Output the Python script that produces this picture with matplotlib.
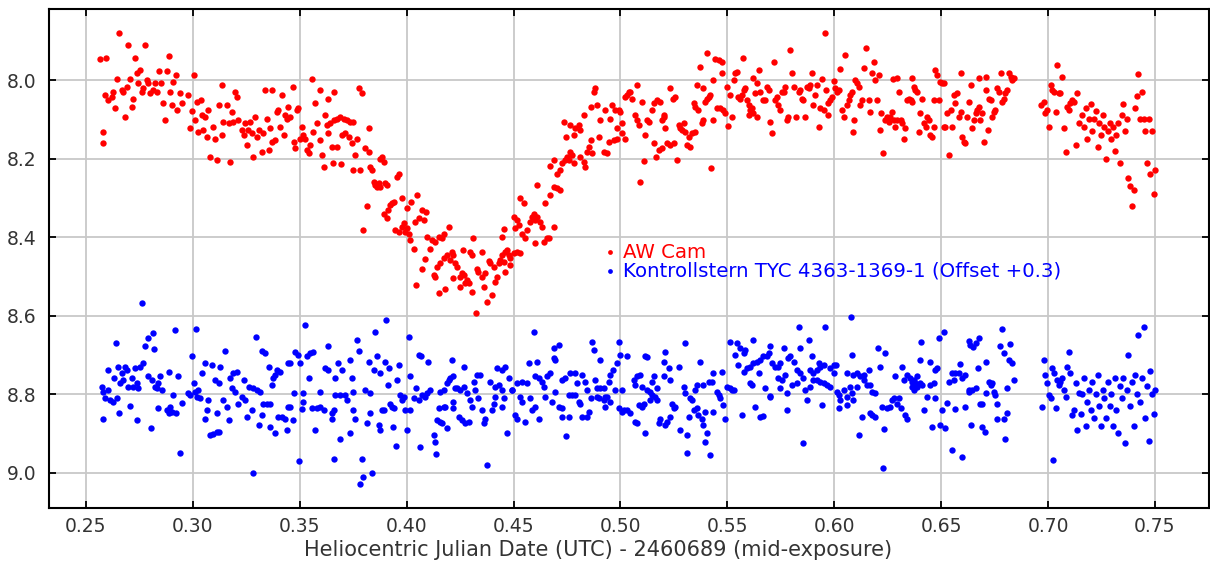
import matplotlib
matplotlib.use("Agg")
import matplotlib.pyplot as plt
from matplotlib.ticker import FormatStrFormatter

# ---------------- data ----------------
red_time = [
    0.2566,0.2578,0.2578,0.2589,0.2594,0.2605,0.2620,0.2628,0.2636,0.2647,
    0.2656,0.2667,0.2675,0.2683,0.2691,0.2698,0.2706,0.2714,0.2722,0.2730,
    0.2737,0.2745,0.2753,0.2761,0.2769,0.2776,0.2784,0.2792,0.2800,0.2815,
    0.2823,0.2831,0.2843,0.2851,0.2859,0.2870,0.2881,0.2889,0.2893,0.2901,
    0.2909,0.2920,0.2928,0.2940,0.2948,0.2979,0.2987,0.2995,0.3003,0.3010,
    0.3018,0.3026,0.3037,0.3042,0.3049,0.3057,0.3065,0.3073,0.3081,0.3096,
    0.3104,0.3112,0.3120,0.3135,0.3135,0.3143,0.3159,0.3167,0.3174,0.3182,
    0.3190,0.3198,0.3206,0.3213,0.3229,0.3237,0.3244,0.3252,0.3260,0.3268,
    0.3276,0.3283,0.3291,0.3299,0.3307,0.3322,0.3330,0.3338,0.3346,0.3354,
    0.3361,0.3369,0.3369,0.3385,0.3393,0.3400,0.3408,0.3416,0.3424,0.3432,
    0.3439,0.3447,
    0.3467,0.3556,0.3595,0.3662,0.3631,0.3572,0.3494,0.3486,0.3455,0.3619,
    0.3775,0.3790,0.3510,0.3517,0.3525,0.3502,0.3478,0.3471,0.3533,0.3541,
    0.3549,0.3564,0.3580,0.3595,0.3603,0.3611,0.3627,0.3642,0.3658,0.3673,
    0.3689,0.3705,0.3720,0.3736,0.3751,0.3634,0.3650,0.3673,0.3697,0.3712,
    0.3728,0.3744,0.3767,0.3655,0.3692,0.3759,0.3751,0.3783,0.3822,0.3806,
    0.3826,0.3829,0.3837,0.3845,0.3853,0.3861,0.3869,0.3876,0.3900,0.3907,
    0.3884,0.3892,0.3876,0.3814,0.3798,0.3954,0.3962,0.3892,0.3907,0.3915,
    0.3923,0.3931,0.3939,0.3946,0.3962,0.3978,0.3986,0.3993,0.4001,0.4009,
    0.3978,0.4001,0.4020,0.4048,0.4040,0.4060,0.4071,0.4092,0.4079,0.4017,
    0.4032,0.4095,0.4107,0.4118,0.4134,0.4149,0.4165,0.4173,0.4196,0.4045,
    0.4071,0.4087,0.4126,0.4134,0.4141,0.4157,0.4173,0.4188,0.4204,0.4212,
    0.4219,0.4227,0.4235,0.4149,0.4180,0.4219,0.4251,0.4258,0.4266,0.4282,
    0.4251,0.4274,0.4290,0.4305,0.4263,0.4297,0.4305,0.4310,0.4329,0.4336,
    0.4352,0.4368,0.4352,0.4360,0.4375,0.4325,0.4383,
    0.4399,0.4414,0.4422,0.4407,0.4391,0.4430,0.4438,0.4446,0.4453,0.4461,
    0.4469,0.4477,0.4485,0.4500,0.4516,0.4532,0.4461,0.4485,0.4446,0.4453,
    0.4500,0.4516,0.4524,0.4508,0.4532,0.4547,0.4539,0.4555,0.4563,0.4578,
    0.4586,0.4594,0.4602,0.4610,0.4625,0.4633,0.4602,0.4641,0.4656,0.4664,
    0.4688,0.4610,0.4649,0.4672,0.4688,0.4703,0.4719,0.4669,0.4688,0.4703,
    0.4719,0.4727,0.4742,0.4750,0.4766,0.4774,0.4758,0.4781,0.4812,0.4836,
    0.4828,0.4735,0.4747,0.4766,0.4781,0.4789,0.4805,0.4809,0.4828,0.4844,
    0.4852,0.4860,0.4867,0.4860,0.4875,0.4883,0.4891,0.4898,0.4906,0.4922,
    0.4929,0.4937,0.4945,0.4953,0.4961,0.4976,0.4984,0.4992,0.5000,0.4968,
    0.4984,0.5007,0.5023,0.5007,0.5023,0.5031,0.5038,0.5054,0.5077,0.5046,
    0.5070,0.5077,0.5085,0.5101,0.5116,0.5124,0.5132,0.5093,0.5109,0.5148,
    0.5155,0.5171,0.5187,0.5194,0.5202,0.5210,0.5202,0.5155,0.5166,0.5179,
    0.5194,0.5218,0.5233,0.5249,0.5233,0.5246,0.5257,0.5265,0.5272,0.5280,
    0.5288,0.5296,0.5304,0.5311,0.5319,
    0.5326,0.5334,0.5349,0.5342,0.5349,0.5365,0.5357,0.5373,0.5388,0.5396,
    0.5404,0.5412,0.5420,0.5381,0.5388,0.5407,0.5443,0.5459,0.5474,0.5435,
    0.5474,0.5423,0.5432,0.5451,0.5466,0.5482,0.5490,0.5498,0.5505,0.5513,
    0.5521,0.5529,0.5537,0.5545,0.5552,0.5560,0.5568,0.5576,0.5572,0.5591,
    0.5599,0.5607,0.5615,0.5622,0.5630,0.5638,0.5646,0.5654,0.5583,0.5599,
    0.5622,0.5638,0.5669,0.5677,0.5685,0.5693,0.5700,0.5708,0.5716,0.5724,
    0.5732,0.5739,0.5747,0.5755,0.5763,0.5771,0.5778,0.5786,0.5791,0.5802,
    0.5810,0.5822,0.5833,0.5841,0.5849,0.5856,0.5864,0.5872,0.5880,0.5888,
    0.5895,0.5903,0.5911,0.5919,0.5927,0.5934,0.5942,0.5950,0.5958,0.5962,
    0.5969,0.5973,0.5981,0.5989,0.5997,0.6005,0.6012,0.6020,0.6028,0.6036,
    0.6044,0.6051,0.6059,0.6067,0.6075,0.6083,0.6090,0.6094,0.6098,0.6106,
    0.6114,0.6122,0.6130,0.6137,0.6150,0.6161,0.6169,0.6176,0.6184,0.6192,
    0.6200,0.6208,0.6212,0.6218,0.6228,0.6239,0.6247,0.6254,
    0.6263,0.6271,0.6278,0.6286,0.6294,0.6302,0.6310,0.6318,0.6325,0.6333,
    0.6275,0.6294,0.6341,0.6349,0.6357,0.6364,0.6372,0.6380,0.6364,0.6388,
    0.6396,0.6403,0.6411,0.6419,0.6427,0.6435,0.6442,0.6450,0.6458,0.6466,
    0.6466,0.6473,0.6481,0.6489,0.6497,0.6505,0.6513,0.6513,0.6520,0.6528,
    0.6536,0.6544,0.6552,0.6559,0.6567,0.6575,0.6583,0.6591,0.6598,0.6606,
    0.6614,0.6595,0.6622,0.6630,0.6638,0.6645,0.6653,0.6661,0.6669,0.6677,
    0.6684,0.6677,0.6692,0.6700,0.6708,0.6712,0.6718,0.6723,0.6731,0.6739,
    0.6747,0.6754,0.6762,0.6770,0.6778,0.6786,0.6793,0.6801,0.6809,0.6817,
    0.6825,0.6832,0.6840,
    0.6965,0.6980,0.6988,0.6996,0.7004,0.7012,0.7019,0.7027,0.7035,0.7043,
    0.7051,0.7058,0.7066,0.7074,0.7082,0.7090,0.7097,0.7105,0.7113,0.7121,
    0.7129,0.7136,0.7144,
    0.7160,0.7168,0.7176,0.7184,0.7192,0.7200,0.7208,0.7216,0.7224,0.7232,
    0.7240,0.7248,0.7256,0.7264,0.7272,0.7280,0.7288,0.7296,0.7304,0.7312,
    0.7320,0.7328,0.7336,0.7344,0.7352,0.7360,0.7368,0.7376,0.7384,0.7392,
    0.7400,0.7408,0.7416,0.7423,0.7431,0.7439,0.7447,0.7455,0.7463,0.7471,
    0.7479,0.7487,0.7495,0.7500,
]
red_mag = [
    7.947,8.133,8.161,8.038,7.945,8.051,8.042,8.030,8.072,7.998,
    7.879,8.025,8.030,8.093,8.017,7.911,7.998,8.068,8.047,7.945,
    7.983,8.008,7.975,8.030,8.021,7.911,8.000,8.008,8.034,8.025,
    8.008,8.030,7.976,8.008,8.059,8.102,7.976,7.939,8.030,8.064,
    8.004,7.987,8.076,8.034,8.059,8.038,8.121,8.078,7.987,8.102,
    8.055,8.132,8.051,8.089,8.127,8.093,8.144,8.076,8.195,8.119,
    8.149,8.204,8.064,8.013,8.140,8.106,8.064,8.110,8.208,8.081,
    8.106,8.030,8.042,8.102,8.127,8.140,8.110,8.166,8.127,8.106,
    8.136,8.195,8.093,8.144,8.127,8.183,8.136,8.025,8.098,8.178,
    8.123,8.025,8.157,8.153,8.081,8.076,8.119,8.038,8.140,8.089,
    8.098,8.068,
    8.017,7.998,8.025,8.030,8.047,8.059,8.072,8.076,8.093,8.089,
    8.021,8.034,8.119,8.140,8.149,8.149,8.174,8.157,8.178,8.187,
    8.166,8.132,8.110,8.153,8.191,8.221,8.115,8.110,8.102,8.098,
    8.093,8.098,8.102,8.106,8.106,8.136,8.170,8.170,8.140,8.136,
    8.144,8.161,8.149,8.211,8.214,8.191,8.228,8.228,8.121,8.174,
    8.183,8.221,8.229,8.259,8.267,8.272,8.263,8.272,8.263,8.267,
    8.195,8.208,8.202,8.321,8.382,8.246,8.238,8.340,8.352,8.331,
    8.318,8.314,8.310,8.382,8.386,8.374,8.365,8.386,8.378,8.391,
    8.301,8.327,8.310,8.293,8.361,8.352,8.331,8.335,8.357,8.408,
    8.429,8.399,8.429,8.408,8.412,8.399,8.403,8.391,8.374,8.522,
    8.480,8.455,8.497,8.501,8.475,8.467,8.454,8.446,8.458,8.437,
    8.446,8.467,8.475,8.543,8.531,8.505,8.501,8.492,8.497,8.509,
    8.526,8.518,8.518,8.539,8.433,8.437,8.446,8.403,8.480,8.488,
    8.501,8.492,8.437,8.526,8.565,8.593,8.462,
    8.548,8.514,8.501,8.475,8.467,8.467,8.458,8.446,8.463,8.437,
    8.433,8.446,8.454,8.441,8.437,8.441,8.488,8.471,8.399,8.380,
    8.348,8.357,8.369,8.378,8.301,8.314,8.391,8.403,8.382,8.361,
    8.348,8.340,8.357,8.348,8.361,8.374,8.416,8.412,8.403,8.403,
    8.375,8.267,8.314,8.293,8.272,8.276,8.280,8.219,8.204,8.238,
    8.229,8.212,8.204,8.195,8.183,8.191,8.204,8.212,8.195,8.221,
    8.208,8.106,8.144,8.115,8.140,8.123,8.115,8.127,8.089,8.183,
    8.170,8.153,8.187,8.068,8.030,8.021,8.064,8.144,8.102,8.183,
    8.076,8.187,8.157,8.098,8.064,8.076,8.123,8.076,8.081,8.153,
    8.149,8.136,8.149,8.110,8.042,8.038,8.030,8.047,8.013,8.030,
    8.089,8.102,8.115,8.055,8.140,8.102,8.106,8.259,8.205,8.076,
    8.059,8.051,8.055,8.102,8.093,8.123,8.089,8.161,8.195,8.178,
    8.174,8.161,8.166,8.161,8.021,8.047,8.042,8.204,8.115,8.123,
    8.127,8.110,8.132,8.166,8.144,
    8.170,8.136,8.132,8.059,8.068,8.076,8.013,7.966,8.021,8.055,
    8.047,8.042,8.038,8.110,8.102,7.932,7.947,7.950,7.953,8.000,
    7.981,8.223,8.102,8.072,8.070,8.076,8.085,8.017,8.117,8.038,
    8.093,8.000,7.983,7.979,8.042,8.047,8.038,8.025,7.943,8.051,
    8.064,8.076,8.072,7.996,8.034,8.008,7.975,8.030,8.021,8.089,
    8.085,8.093,8.051,8.051,8.017,8.025,8.106,8.136,7.953,8.051,
    8.042,8.064,8.076,8.030,8.030,8.017,8.102,8.093,7.924,7.983,
    8.017,8.093,8.030,8.025,8.047,8.051,8.093,8.017,8.021,8.013,
    7.981,8.064,8.038,8.013,8.119,8.072,7.998,8.076,7.879,8.025,
    8.089,8.059,8.051,8.042,8.002,8.021,8.030,8.025,7.973,8.076,
    8.093,7.936,8.064,8.051,8.038,8.030,8.132,8.102,8.000,8.008,
    8.017,8.064,8.051,7.970,7.919,8.051,8.081,7.983,7.953,8.000,
    8.051,7.987,8.127,8.085,8.187,8.102,8.093,8.106,
    8.093,8.081,8.102,8.119,8.102,8.030,8.102,8.110,8.149,8.123,
    7.998,7.994,8.051,8.047,8.051,8.055,8.017,8.025,7.994,8.030,
    8.132,8.085,8.047,8.110,8.119,8.093,8.102,8.140,8.144,8.119,
    8.051,7.975,7.987,8.051,8.004,8.008,8.008,8.119,8.119,8.085,
    8.191,8.076,8.119,8.038,8.059,8.034,8.093,8.081,8.144,8.157,
    8.161,7.981,8.093,8.055,8.013,8.123,8.102,8.085,8.076,8.068,
    8.102,7.996,8.085,8.157,7.991,8.025,8.127,8.047,8.051,8.093,
    8.081,8.076,8.021,8.030,7.981,8.055,8.047,8.034,8.025,7.983,
    7.991,8.000,7.996,
    8.064,8.055,8.085,8.076,8.119,8.013,8.025,8.030,8.081,7.962,
    8.034,8.034,7.992,8.123,8.183,8.068,8.076,8.059,8.051,8.055,
    8.166,8.034,8.110,
    8.090,8.120,8.070,8.150,8.100,8.060,8.130,8.100,8.080,8.170,
    8.110,8.140,8.090,8.120,8.200,8.130,8.110,8.150,8.120,8.180,
    8.140,8.110,8.210,8.090,8.060,8.130,8.100,8.250,8.270,8.320,
    8.280,8.070,8.040,7.985,8.100,8.030,8.100,8.130,8.210,8.100,
    8.240,8.130,8.290,8.230,
]

blue_time = [
    0.2761,0.2639,0.2812,0.2792,0.2776,0.2820,0.2918,0.3015,0.2995,0.3295,
    0.3151,0.3322,0.3338,0.2574,0.2581,0.2589,0.2605,0.2613,0.2628,0.2644,
    0.2605,0.2632,0.2652,0.2667,0.2683,0.2691,0.2675,0.2660,0.2698,0.2714,
    0.2722,0.2737,0.2745,0.2730,0.2753,0.2769,0.2581,0.2656,0.2706,0.2737,
    0.2804,0.2792,0.2808,0.2823,0.2839,0.2847,0.2854,0.2831,0.2889,0.2835,
    0.2878,0.2893,0.2886,0.2901,0.2921,0.2906,0.2932,0.2940,0.2948,0.2975,
    0.2987,0.3003,0.3010,0.3018,0.3026,0.3034,0.3042,0.3057,0.3073,0.3057,
    0.3065,0.3081,0.3096,0.3112,0.3124,0.3088,0.3104,0.3127,0.3120,0.3112,
    0.3143,0.3159,0.3167,0.3174,0.3190,0.3206,0.3182,0.3198,0.3213,0.3229,
    0.3237,0.3244,0.3252,0.3264,0.3276,0.3283,0.3280,0.3299,0.3307,0.3315,
    0.3322,0.3330,0.3346,0.3361,0.3354,0.3369,0.3377,0.3385,0.3393,0.3408,
    0.3361,0.3385,0.3400,0.3416,0.3432,0.3439,0.3447,0.3447,
    0.3525,0.3903,0.3853,0.4009,0.3767,0.3631,0.3775,0.3478,0.3494,0.3502,
    0.3455,0.3533,0.3549,0.3564,0.3619,0.3634,0.3681,0.3697,0.3736,0.3744,
    0.3822,0.3845,0.3861,0.3876,0.3900,0.3918,0.3962,0.3954,0.3911,0.4056,
    0.4068,0.4099,0.4017,0.4212,0.4266,0.3541,0.3666,0.3471,0.3514,0.3595,
    0.3666,0.3689,0.3712,0.3720,0.3751,0.3806,0.3829,0.3455,0.3517,0.3510,
    0.3556,0.3580,0.3595,0.3611,0.3650,0.3658,0.3467,0.3572,0.3650,0.3686,
    0.3733,0.3759,0.3751,0.3814,0.3829,0.3869,0.3876,0.3892,0.3884,0.3923,
    0.3931,0.3939,0.3934,0.3951,0.3970,0.3978,0.3986,0.3993,0.4001,0.4017,
    0.4032,0.4045,0.4056,0.4071,0.4087,0.4095,0.4110,0.4063,0.3497,0.3662,
    0.3790,0.3783,0.3798,0.3837,0.4126,0.4134,0.4138,0.4141,0.4149,0.4157,
    0.4165,0.4173,0.4180,0.4188,0.4157,0.4173,0.4188,0.4196,0.4204,0.4219,
    0.4227,0.4235,0.4251,0.4219,0.4219,0.4243,0.4258,0.4274,0.4290,0.4266,
    0.4282,0.4297,0.4305,0.4313,0.4321,0.4329,0.4336,0.4341,0.4352,0.4360,
    0.4368,0.4375,
    0.4594,0.4867,0.4992,0.4875,0.5304,0.5210,0.4688,0.4711,0.4695,0.4688,
    0.4422,0.4461,0.4446,0.4570,0.4610,0.4906,0.4999,0.5031,0.5116,0.5124,
    0.5202,0.5226,0.5272,0.4391,0.4414,0.4430,0.4446,0.4477,0.4492,0.4516,
    0.4539,0.4563,0.4602,0.4617,0.4633,0.4641,0.4656,0.4672,0.4695,0.4727,
    0.4742,0.4766,0.4789,0.4797,0.4820,0.4836,0.4844,0.4883,0.4891,0.4906,
    0.4922,0.4945,0.4953,0.4965,0.4976,0.4984,0.5007,0.5062,0.5070,0.5077,
    0.5093,0.5101,0.5124,0.5140,0.5155,0.5148,0.5171,0.5202,0.5233,0.4399,
    0.4407,0.4414,0.4453,0.4446,0.4469,0.4492,0.4508,0.4516,0.4532,0.4539,
    0.4555,0.4578,0.4586,0.4602,0.4617,0.4649,0.4680,0.4711,0.4727,0.4727,
    0.4747,0.4758,0.4758,0.4774,0.4789,0.4805,0.4813,0.4820,0.4844,0.4852,
    0.4860,0.4891,0.4898,0.4922,0.4929,0.4929,0.4937,0.4953,0.4992,0.5007,
    0.5015,0.5031,0.5046,0.5070,0.5077,0.5085,0.5101,0.5109,0.5116,0.5140,
    0.5148,0.5163,0.5171,0.5179,0.5187,0.5210,0.5218,0.5233,0.5241,0.5249,
    0.5257,0.5280,0.5296,0.5304,0.5311,0.5319,0.5311,
    0.6078,0.5833,0.5958,0.5880,0.5841,0.5513,0.5545,0.5560,0.5583,0.5622,
    0.5576,0.5700,0.5693,0.5763,0.5794,0.5895,0.5931,0.5997,0.6083,0.6203,
    0.6239,0.5373,0.5537,0.5552,0.5576,0.5591,0.5607,0.5622,0.5638,0.5654,
    0.5669,0.5685,0.5708,0.5724,0.5739,0.5747,0.5786,0.5810,0.5825,0.5841,
    0.5856,0.5888,0.5903,0.5919,0.5934,0.5950,0.5981,0.6009,0.6059,0.6090,
    0.6106,0.6137,0.6161,0.6215,0.5474,0.5435,0.5412,0.5427,0.5388,0.5349,
    0.5357,0.5326,0.5451,0.5459,0.5466,0.5498,0.5513,0.5529,0.5607,0.5615,
    0.5646,0.5677,0.5700,0.5739,0.5747,0.5755,0.5771,0.5778,0.5802,0.5825,
    0.5864,0.5872,0.5888,0.5903,0.5919,0.5934,0.5950,0.5966,0.5981,0.5997,
    0.6012,0.6020,0.6028,0.6044,0.6059,0.6075,0.6083,0.6090,0.6106,0.6122,
    0.6137,0.6153,0.6169,0.6176,0.6192,0.5334,0.5342,0.5357,0.5365,0.5381,
    0.5388,0.5396,0.5404,0.5396,0.5420,0.5435,0.5482,0.5490,0.5521,0.5568,
    0.5630,0.5654,0.5669,0.5700,0.5778,0.5856,0.5942,0.6020,0.6059,0.6114,
    0.6130,0.6169,0.6176,0.6192,0.6223,0.6231,0.6247,0.6228,
    0.6512,0.6489,0.6406,0.6629,0.6637,0.6649,0.6661,0.6676,0.6785,0.6824,
    0.6774,0.6793,0.6400,0.6447,0.6481,0.6473,0.6590,0.6712,0.6817,0.6832,
    0.6673,0.6286,0.6317,0.6325,0.6341,0.6356,0.6364,0.6372,0.6380,0.6388,
    0.6403,0.6411,0.6450,0.6466,0.6536,0.6551,0.6559,0.6567,0.6583,0.6598,
    0.6614,0.6630,0.6645,0.6661,0.6684,0.6708,0.6723,0.6731,0.6739,0.6747,
    0.6754,0.6762,0.6809,0.6840,0.6263,0.6271,0.6278,0.6294,0.6302,0.6310,
    0.6333,0.6341,0.6364,0.6372,0.6388,0.6419,0.6435,0.6473,0.6458,0.6497,
    0.6505,0.6520,0.6528,0.6552,0.6567,0.6598,0.6614,0.6630,0.6640,0.6689,
    0.6692,0.6703,0.6762,0.6793,0.6801,0.6809,
    0.6980,0.6972,0.6988,0.6996,0.7004,0.7012,0.7019,0.7024,0.7027,0.7035,
    0.7043,0.7051,0.7058,0.7066,0.7074,0.7082,0.7090,0.7097,0.7105,0.7113,
    0.7121,0.7129,0.7136,0.7144,
    0.7152,0.7160,0.7168,0.7176,0.7184,0.7192,0.7200,0.7208,0.7216,0.7224,
    0.7232,0.7240,0.7248,0.7256,0.7264,0.7272,0.7280,0.7288,0.7296,0.7304,
    0.7312,0.7320,0.7328,0.7336,0.7344,0.7352,0.7360,0.7368,0.7376,0.7384,
    0.7392,0.7400,0.7408,0.7416,0.7423,0.7431,0.7439,0.7447,0.7455,0.7463,
    0.7471,0.7479,0.7487,0.7495,0.7500,
]
blue_mag = [
    8.567,8.669,8.645,8.658,8.677,8.686,8.637,8.633,8.703,8.654,
    8.690,8.690,8.696,8.781,8.794,8.811,8.790,8.815,8.819,8.811,
    8.739,8.760,8.730,8.747,8.730,8.739,8.764,8.772,8.781,8.760,
    8.781,8.772,8.785,8.734,8.730,8.721,8.862,8.847,8.830,8.866,
    8.887,8.755,8.764,8.781,8.772,8.755,8.789,8.785,8.743,8.836,
    8.840,8.832,8.849,8.845,8.849,8.802,8.755,8.949,8.822,8.798,
    8.802,8.772,8.794,8.807,8.790,8.811,8.747,8.721,8.815,8.862,
    8.840,8.904,8.902,8.897,8.896,8.726,8.764,8.730,8.772,8.849,
    8.815,8.832,8.866,8.760,8.747,8.743,8.785,8.794,8.824,8.807,
    8.764,8.815,8.857,8.781,8.840,8.785,9.002,8.790,8.879,8.794,
    8.853,8.824,8.824,8.824,8.730,8.777,8.760,8.751,8.739,8.743,
    8.883,8.900,8.857,8.857,8.862,8.891,8.832,8.721,
    8.624,8.611,8.641,8.654,8.662,8.677,8.690,8.692,8.700,8.721,
    8.721,8.704,8.696,8.692,8.734,8.739,8.721,8.739,8.713,8.760,
    8.717,8.739,8.704,8.747,8.717,8.734,8.726,8.764,8.777,8.700,
    8.704,8.717,8.755,8.713,8.730,8.760,8.760,8.798,8.798,8.794,
    8.802,8.802,8.802,8.815,8.794,8.790,8.798,8.832,8.819,8.839,
    8.836,8.836,8.832,8.840,8.849,8.840,8.866,8.891,8.862,8.913,
    8.900,8.862,8.840,8.874,8.847,8.879,8.891,8.840,8.840,8.824,
    8.832,8.836,8.883,8.932,8.802,8.815,8.807,8.840,8.891,8.840,
    8.811,8.785,8.815,8.802,8.807,8.798,8.790,8.934,8.970,8.966,
    8.966,9.030,9.010,9.002,8.904,8.921,8.953,8.866,8.836,8.870,
    8.874,8.832,8.832,8.887,8.794,8.790,8.772,8.764,8.760,8.755,
    8.785,8.785,8.790,8.819,8.836,8.857,8.866,8.874,8.870,8.781,
    8.798,8.815,8.832,8.768,8.790,8.751,8.810,8.751,8.840,8.874,
    8.862,8.980,
    8.641,8.666,8.666,8.687,8.670,8.693,8.683,8.675,8.713,8.709,
    8.734,8.730,8.739,8.721,8.719,8.713,8.700,8.704,8.704,8.706,
    8.717,8.734,8.730,8.768,8.781,8.777,8.790,8.760,8.790,8.772,
    8.768,8.772,8.755,8.760,8.768,8.781,8.755,8.747,8.794,8.764,
    8.760,8.747,8.747,8.772,8.751,8.768,8.790,8.764,8.785,8.785,
    8.785,8.768,8.751,8.739,8.790,8.721,8.790,8.764,8.777,8.755,
    8.751,8.781,8.790,8.794,8.755,8.768,8.785,8.755,8.764,8.840,
    8.824,8.807,8.811,8.832,8.900,8.790,8.853,8.862,8.807,8.819,
    8.870,8.811,8.840,8.832,8.862,8.807,8.819,8.832,8.836,8.857,
    8.906,8.857,8.802,8.802,8.802,8.819,8.824,8.857,8.857,8.845,
    8.811,8.807,8.811,8.815,8.807,8.832,8.807,8.819,8.836,8.845,
    8.840,8.840,8.849,8.870,8.874,8.828,8.832,8.824,8.900,8.815,
    8.802,8.807,8.815,8.874,8.862,8.879,8.870,8.857,8.824,8.836,
    8.832,8.891,8.781,8.798,8.951,8.857,8.904,
    8.603,8.628,8.628,8.662,8.683,8.666,8.670,8.683,8.687,8.662,
    8.696,8.677,8.696,8.683,8.704,8.704,8.721,8.726,8.700,8.683,
    8.694,8.717,8.700,8.726,8.743,8.734,8.730,8.721,8.717,8.713,
    8.704,8.704,8.721,8.730,8.730,8.721,8.709,8.717,8.739,8.747,
    8.760,8.739,8.747,8.739,8.730,8.726,8.734,8.726,8.747,8.751,
    8.747,8.751,8.739,8.730,8.743,8.747,8.768,8.768,8.777,8.790,
    8.777,8.811,8.794,8.802,8.811,8.781,8.785,8.790,8.772,8.777,
    8.747,8.785,8.807,8.760,8.785,8.764,8.751,8.798,8.777,8.772,
    8.790,8.815,8.781,8.764,8.764,8.768,8.772,8.777,8.781,8.747,
    8.794,8.802,8.815,8.790,8.807,8.781,8.798,8.815,8.781,8.755,
    8.764,8.777,8.777,8.794,8.798,8.815,8.840,8.836,8.853,8.862,
    8.879,8.845,8.900,8.921,8.955,8.845,8.828,8.862,8.790,8.853,
    8.832,8.857,8.856,8.805,8.840,8.924,8.828,8.836,8.828,8.904,
    8.857,8.849,8.853,8.857,8.832,8.888,8.836,8.989,
    8.641,8.658,8.666,8.664,8.675,8.679,8.670,8.658,8.633,8.672,
    8.677,8.694,8.713,8.717,8.734,8.739,8.722,8.717,8.713,8.721,
    8.734,8.755,8.730,8.764,8.751,8.760,8.768,8.764,8.772,8.755,
    8.772,8.777,8.777,8.772,8.768,8.747,8.764,8.747,8.747,8.760,
    8.751,8.790,8.790,8.785,8.824,8.798,8.768,8.777,8.772,8.794,
    8.802,8.824,8.785,8.764,8.832,8.815,8.811,8.824,8.811,8.836,
    8.853,8.862,8.781,8.790,8.781,8.840,8.807,8.811,8.883,8.879,
    8.840,8.887,8.822,8.942,8.838,8.959,8.832,8.794,8.879,8.824,
    8.883,8.896,8.862,8.862,8.913,8.849,
    8.713,8.832,8.751,8.772,8.802,8.811,8.734,8.968,8.747,8.836,
    8.764,8.777,8.768,8.760,8.790,8.807,8.730,8.692,8.747,8.853,
    8.840,8.772,8.891,8.798,
    8.850,8.800,8.760,8.880,8.820,8.790,8.840,8.770,8.860,8.800,
    8.750,8.830,8.880,8.790,8.810,8.860,8.770,8.830,8.800,8.880,
    8.760,8.840,8.900,8.780,8.810,8.760,8.925,8.790,8.700,8.830,
    8.770,8.880,8.750,8.800,8.650,8.820,8.760,8.630,8.860,8.780,
    8.920,8.740,8.800,8.850,8.790,
]

series_labels = ["AW Cam", "Kontrollstern TYC 4363-1369-1 (Offset +0.3)"]
x_label = "Heliocentric Julian Date (UTC) - 2460689 (mid-exposure)"
x_ticks = [0.25, 0.30, 0.35, 0.40, 0.45, 0.50, 0.55, 0.60, 0.65, 0.70, 0.75]
y_ticks = [8.0, 8.2, 8.4, 8.6, 8.8, 9.0]

# ---------------- figure ----------------
RED = "#ff0000"
BLUE = "#0000ff"
TXT = "#333333"

plt.rcParams["font.family"] = ["DejaVu Sans"]
fig = plt.figure(figsize=(12.10, 5.64), dpi=100)
ax = fig.add_axes([49 / 1210, 1 - 508.3 / 564, (1209 - 49) / 1210, (508.3 - 9) / 564])

sc_red = ax.scatter(red_time, red_mag, s=21, color=RED, linewidths=0, zorder=3)
sc_blue = ax.scatter(blue_time, blue_mag, s=21, color=BLUE, linewidths=0, zorder=3)

ax.set_xlim(0.2327, 0.7753)
ax.set_ylim(9.0907, 7.819)
ax.set_xticks(x_ticks)
ax.set_yticks(y_ticks)
ax.xaxis.set_major_formatter(FormatStrFormatter("%.2f"))
ax.yaxis.set_major_formatter(FormatStrFormatter("%.1f"))

ax.grid(True, color="#c8c8c8", linewidth=1.3)
ax.set_axisbelow(True)
for sp in ax.spines.values():
    sp.set_linewidth(1.5)
    sp.set_color("black")

ax.tick_params(axis="both", which="major", direction="in", top=True, right=True,
               length=5, width=1.3, color="black", labelsize=13.5, labelcolor=TXT)
ax.tick_params(axis="x", pad=6)
ax.tick_params(axis="y", pad=9)

ax.set_xlabel(x_label, fontsize=15, color=TXT)
ax.xaxis.set_label_coords(0.473, -0.064)

leg = ax.legend([sc_red, sc_blue], series_labels, loc="center left",
                bbox_to_anchor=(0.479, 0.494), frameon=False, handlelength=0.55,
                handletextpad=0.38, labelspacing=0.0, borderpad=0, borderaxespad=0,
                fontsize=14.2, scatterpoints=1, markerscale=0.75)
for txt, col in zip(leg.get_texts(), [RED, BLUE]):
    txt.set_color(col)

fig.savefig("out.png", dpi=100)
